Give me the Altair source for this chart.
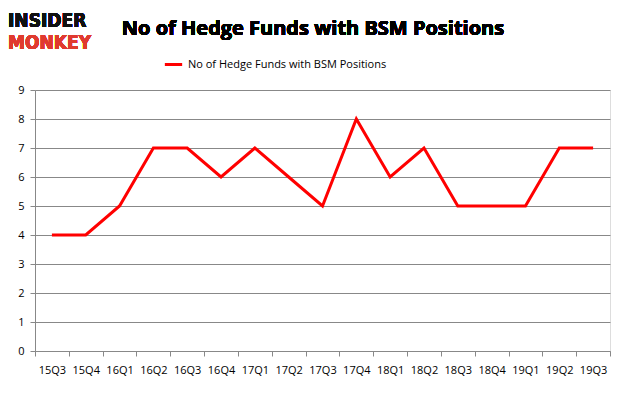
import altair as alt
import pandas as pd

quarters = ["15Q3", "15Q4", "16Q1", "16Q2", "16Q3", "16Q4", "17Q1", "17Q2", "17Q3",
            "17Q4", "18Q1", "18Q2", "18Q3", "18Q4", "19Q1", "19Q2", "19Q3"]
funds = [4, 4, 5, 7, 7, 6, 7, 6, 5, 8, 6, 7, 5, 5, 5, 7, 7]
series_name = "No of Hedge Funds with BSM Positions"
title_text = "No of Hedge Funds with BSM Positions"

df = pd.DataFrame({"quarter": quarters, "funds": funds, "series": [series_name] * len(quarters)})

FONT = "Open Sans"
LOGO_FONT = "'DejaVu Sans Condensed', 'Liberation Sans', sans-serif"

base = alt.Chart(df)

line = base.mark_line(strokeWidth=3).encode(
    x=alt.X("quarter:N", sort=quarters, title=None,
            scale=alt.Scale(paddingInner=0, paddingOuter=0),
            axis=alt.Axis(labelAngle=0, tickBand="extent", domainColor="#888888",
                          tickColor="#888888", tickSize=5, labelPadding=8,
                          labelFont=FONT, labelFontSize=11, labelColor="#000000", grid=False)),
    y=alt.Y("funds:Q", title=None, scale=alt.Scale(domain=[0, 9], nice=False),
            axis=alt.Axis(values=list(range(10)), domainColor="#888888", tickColor="#888888",
                          tickSize=5, gridColor="#888888", gridWidth=1, labelPadding=6,
                          labelFont=FONT, labelFontSize=11, labelColor="#000000")),
    color=alt.Color("series:N", scale=alt.Scale(range=["#ff0000"]),
                    legend=alt.Legend(title=None, orient="none", legendX=128, legendY=-36,
                                      symbolType="stroke", symbolStrokeWidth=3, symbolSize=300,
                                      labelLimit=400,
                                      labelFont=FONT, labelFontSize=11, labelColor="#000000")),
)

title = base.mark_text(fontSize=20, fontWeight="bold", font=FONT, align="center",
                       baseline="alphabetic", color="#000000").encode(
    x=alt.value(278), y=alt.value(-55), text=alt.value(title_text))

logo1 = base.mark_text(fontSize=19, fontWeight="bold", font=LOGO_FONT, align="left",
                       baseline="alphabetic", color="#111111").encode(
    x=alt.value(-27), y=alt.value(-63), text=alt.value("INSIDER"))
logo2 = base.mark_text(fontSize=19, fontWeight="bold", font=LOGO_FONT, align="left",
                       baseline="alphabetic", color="#e03a2f").encode(
    x=alt.value(-27), y=alt.value(-41), text=alt.value("MONKEY"))

chart = alt.layer(line, title, logo1, logo2).properties(
    width=575, height=261, autosize="none",
    padding={"left": 27, "top": 82, "right": 8, "bottom": 30},
).configure_view(stroke=None).configure(background="white")

chart.save("out.html", embed_options={"renderer": "svg", "actions": False})
